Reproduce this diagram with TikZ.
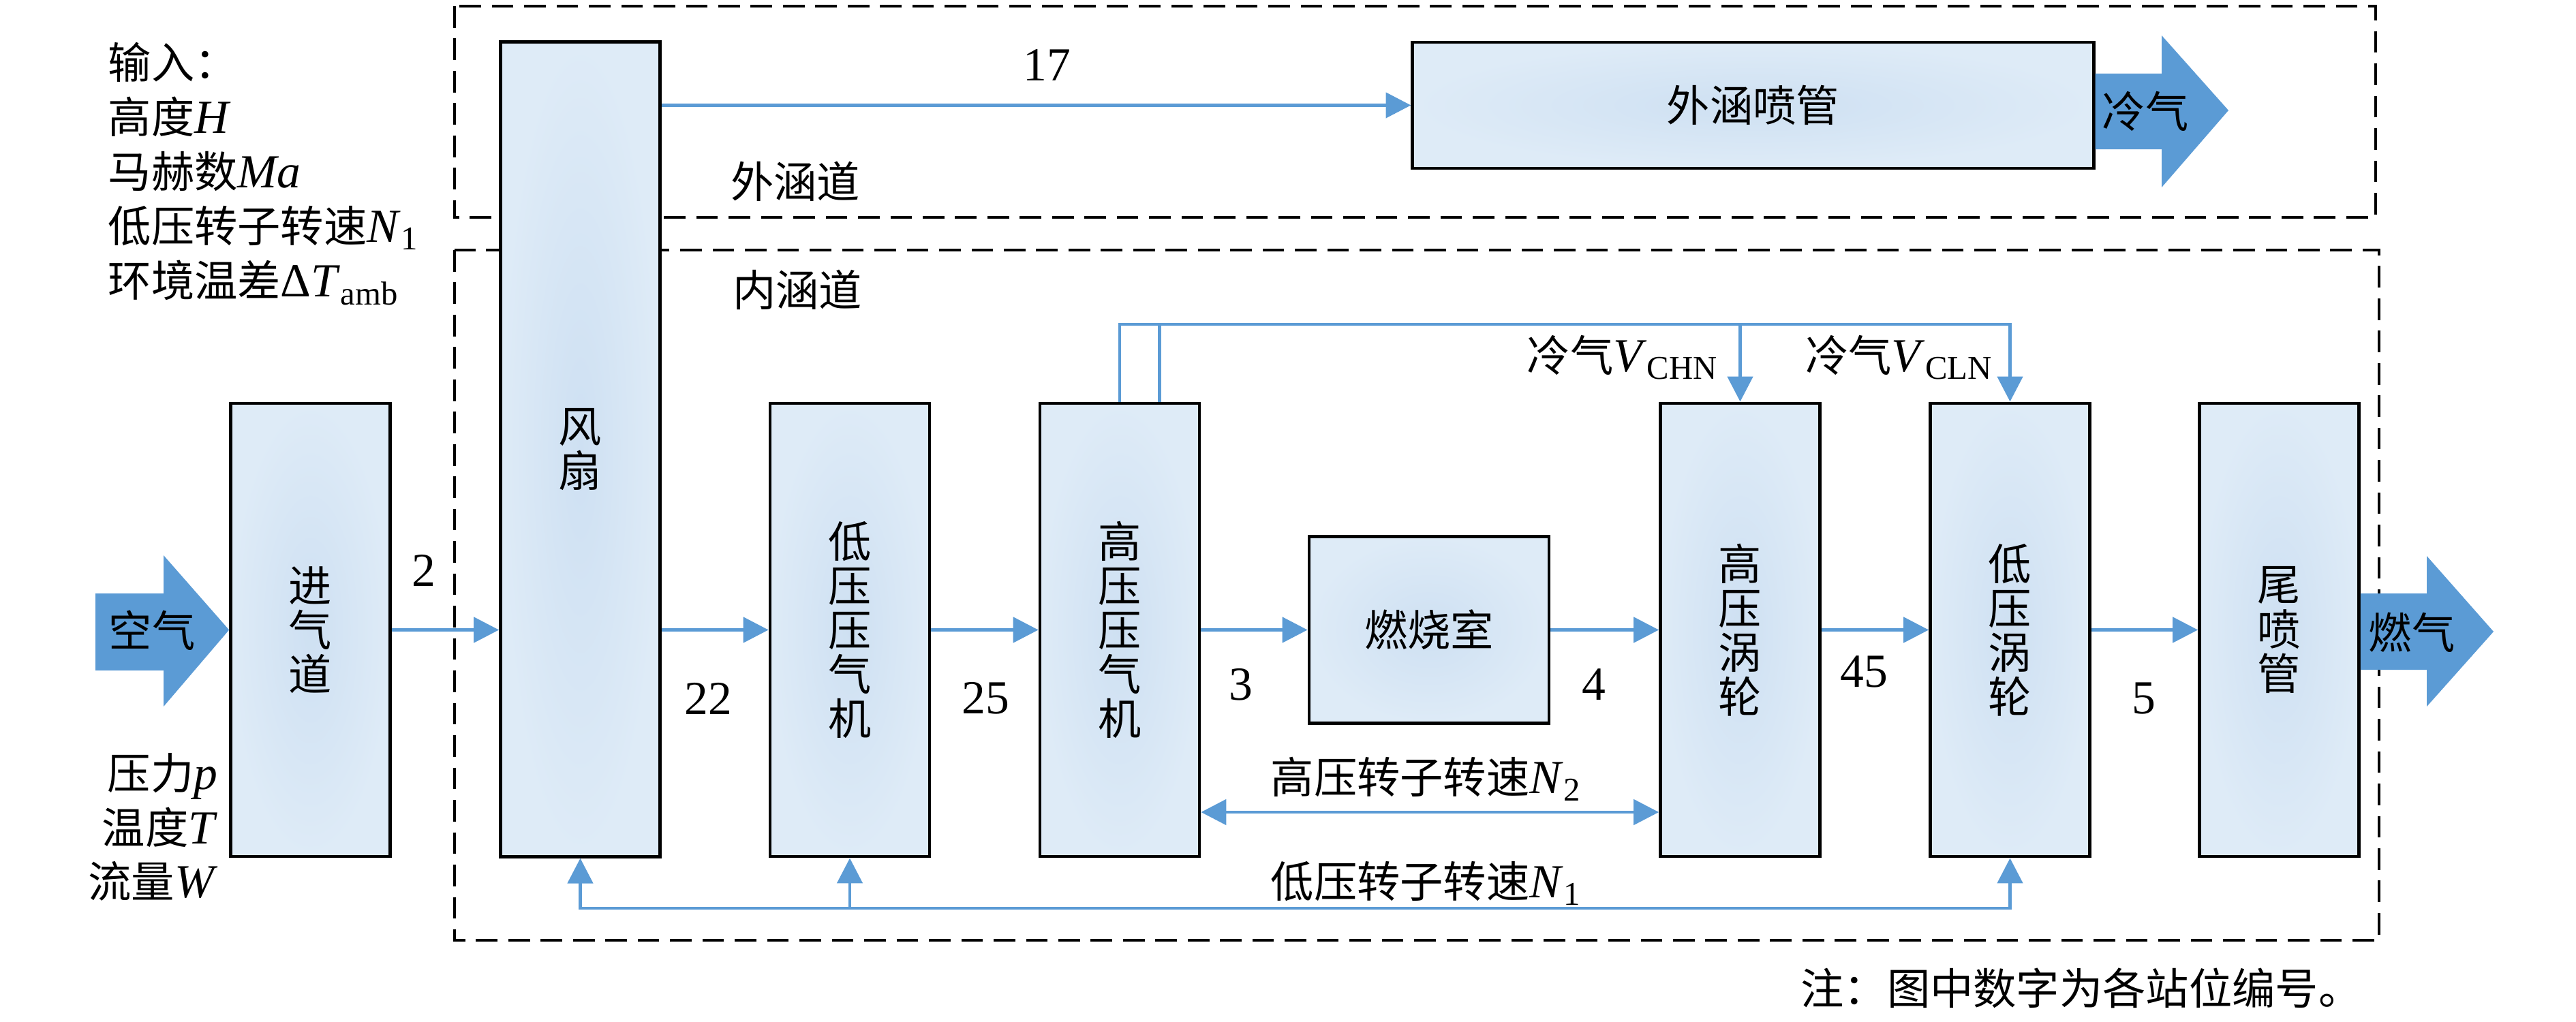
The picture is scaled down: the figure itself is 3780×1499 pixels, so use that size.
\documentclass[tikz,border=0pt]{standalone}
\usepackage{fontspec}
\setmainfont{Liberation Serif}[Scale=1.1]
\newfontfamily\cjk{Noto Sans CJK SC}
\usetikzlibrary{arrows.meta}
\definecolor{flowblue}{RGB}{91,155,213}
\definecolor{boxout}{RGB}{222,235,247}
\definecolor{boxin}{RGB}{206,224,242}
\newcommand\zh[1]{{\cjk #1}}
\begin{document}
\begin{tikzpicture}[x=0.01cm,y=-0.01cm,
  font=\fontsize{18pt}{22pt}\selectfont,
  unit/.style={draw=black, line width=1.3pt, inner color=boxin, outer color=boxout,
    align=center, inner sep=0pt, font=\cjk\fontsize{18pt}{18.5pt}\selectfont,
    minimum width=2.34cm, minimum height=6.65cm},
  tipA/.style={},
  flow/.style={draw=flowblue, line width=1.4pt, -{Triangle[length=10.5pt,width=10.5pt]}},
  flowtwo/.style={draw=flowblue, line width=1.4pt, {Triangle[length=10.5pt,width=10.5pt]}-{Triangle[length=10.5pt,width=10.5pt]}},
  link/.style={draw=flowblue, line width=1.4pt},
  duct/.style={draw=black, line width=1.2pt, dash pattern=on 9pt off 4.5pt},
  lab/.style={inner sep=0pt},
  cjklab/.style={inner sep=0pt, font=\cjk\fontsize{18pt}{18pt}\selectfont},
]
\useasboundingbox[fill=white] (0,0) rectangle (3780,1499);

% duct regions
\draw[duct] (667,9) rectangle (3486,319);
\draw[duct] (667,367) rectangle (3491,1380);

% components
\node[unit] (intake) at (455.5,924.5) {进\\气\\道};
\node[unit, minimum height=11.95cm] (fan) at (851.5,659.5) {风\\扇};
\node[unit] (lpc) at (1247,924.5) {低\\压\\压\\气\\机};
\node[unit] (hpc) at (1643,924.5) {高\\压\\压\\气\\机};
\node[unit, minimum width=3.52cm, minimum height=2.74cm] (burner) at (2097,924.5) {燃烧室};
\node[unit] (hpt) at (2553.5,924.5) {高\\压\\涡\\轮};
\node[unit] (lpt) at (2949.5,924.5) {低\\压\\涡\\轮};
\node[unit] (nozzle) at (3344.5,924.5) {尾\\喷\\管};
\node[unit, minimum width=9.99cm, minimum height=1.85cm] (bypass) at (2572.5,154.5) {外涵喷管};

% main flow
\draw[flow] (intake.east) -- (intake.east -| fan.west);
\draw[flow] (fan.east |- lpc.west) -- (lpc.west);
\draw[flow] (lpc.east) -- (hpc.west);
\draw[flow] (hpc.east) -- (burner.west);
\draw[flow] (burner.east) -- (hpt.west);
\draw[flow] (hpt.east) -- (lpt.west);
\draw[flow] (lpt.east) -- (nozzle.west);
\draw[flow] (fan.east |- bypass.west) -- (bypass.west);

% cooling air
\coordinate (cool) at (0,476);
\draw[flow] (hpc.north) |- (lpt.north |- cool) -- (lpt.north);
\draw[link] ([xshift=0.58cm]hpc.north) -- ([xshift=0.58cm]hpc.north |- cool);
\draw[flow] (hpt.north |- cool) -- (hpt.north);

% shafts
\coordinate (ntwo) at (0,1192);
\coordinate (none) at (0,1333);
\draw[flowtwo] (hpc.east |- ntwo) -- (hpt.west |- ntwo);
\draw[flowtwo] (fan.south) |- (lpt.south |- none) -- (lpt.south);
\draw[flow] (lpc.south |- none) -- (lpc.south);

% big arrows
\fill[flowblue] (140,871) -- (240,871) -- (240,815) -- (intake.west) -- (240,1037) -- (240,984) -- (140,984) -- cycle;
\fill[flowblue] (bypass.east |- 0,108) -- (3172,108) -- (3172,52) -- (3270,162) -- (3172,275) -- (3172,219) -- (bypass.east |- 0,219) -- cycle;
\fill[flowblue] (nozzle.east |- 0,871) -- (3561,871) -- (3561,816) -- (3659,927) -- (3561,1037) -- (3561,983) -- (nozzle.east |- 0,983) -- cycle;
\node[cjklab] (air) at (223,925) {空气};
\node[cjklab] (cold) at (3148,163) {冷气};
\node[cjklab] (gas) at (3539,928) {燃气};

% station numbers
\node[lab] (s2) at (622,837) {2};
\node[lab] (s22) at (1039,1025) {22};
\node[lab] (s25) at (1446,1025) {25};
\node[lab] (s3) at (1821,1005) {3};
\node[lab] (s4) at (2339,1005) {4};
\node[lab] (s45) at (2735,986) {45};
\node[lab] (s5) at (3146,1025) {5};
\node[lab] (s17) at (1536,96) {17};

% region labels
\node[cjklab] (outer) at (1167,266) {外涵道};
\node[cjklab] (inner) at (1170,425) {内涵道};

% cooling labels
\node[lab, anchor=base east] (vchn) at (2522,545) {\zh{冷气}\textit{V}\textsubscript{CHN}};
\node[lab, anchor=base east] (vcln) at (2925,545) {\zh{冷气}\textit{V}\textsubscript{CLN}};

% shaft labels
\node[lab, anchor=base west] (ntwolab) at (1864,1164) {\zh{高压转子转速}\textit{N}\textsubscript{2}};
\node[lab, anchor=base west] (nonelab) at (1864,1317) {\zh{低压转子转速}\textit{N}\textsubscript{1}};

% inputs
\node[lab, anchor=base west] (in0) at (158,115) {\zh{输入：}};
\node[lab, anchor=base west] (in1) at (158,195) {\zh{高度}\textit{H}};
\node[lab, anchor=base west] (in2) at (158,275) {\zh{马赫数}\textit{Ma}};
\node[lab, anchor=base west] (in3) at (158,355) {\zh{低压转子转速}\textit{N}\textsubscript{1}};
\node[lab, anchor=base west] (in4) at (158,435) {\zh{环境温差}Δ\textit{T}\textsubscript{amb}};

% inlet conditions
\node[lab, anchor=base east] (p) at (320,1158) {\zh{压力}\textit{p}};
\node[lab, anchor=base east] (t) at (320,1238) {\zh{温度}\textit{T}};
\node[lab, anchor=base east] (w) at (320,1317) {\zh{流量}\textit{W}};

% note
\node[lab, anchor=base east] (note) at (3466,1474) {\zh{注：图中数字为各站位编号。}};
\end{tikzpicture}
\end{document}
